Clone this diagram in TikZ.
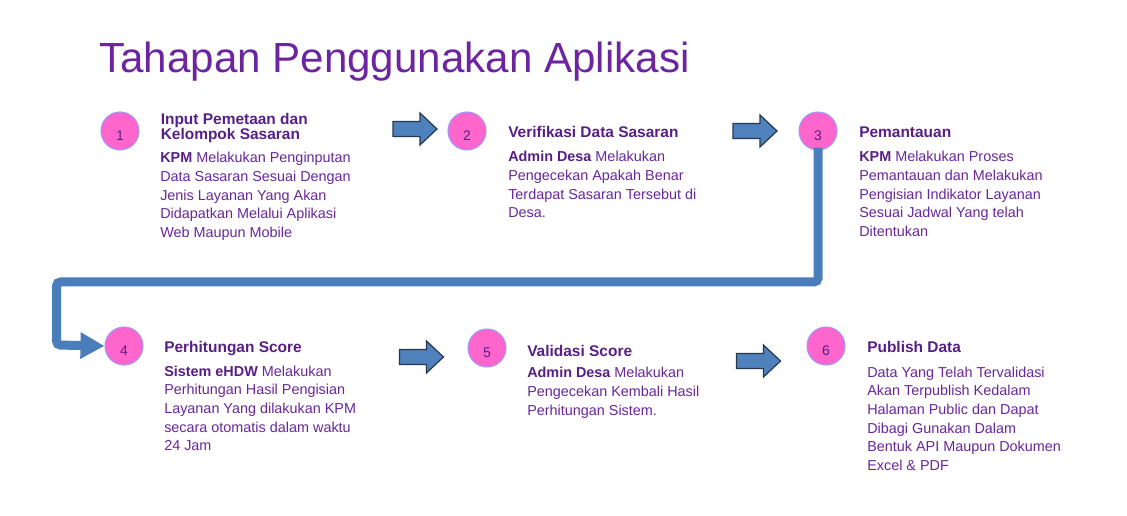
\documentclass[tikz,border=0pt]{standalone}
\usepackage{fontspec}
\setmainfont{Liberation Sans}
\usepackage{xcolor}
\usetikzlibrary{arrows.meta,calc}
\definecolor{titlec}{RGB}{108,36,160}
\definecolor{headc}{RGB}{88,30,135}
\definecolor{bodyc}{RGB}{104,38,154}
\definecolor{pinkc}{RGB}{255,102,204}
\definecolor{ringc}{RGB}{160,150,255}
\definecolor{arrowc}{RGB}{79,129,189}
\definecolor{arrowedge}{RGB}{38,56,80}
\definecolor{connc}{RGB}{74,126,187}
\newcommand\lns[1]{\vtop{\lineskiplimit=-\maxdimen\halign{##\hfil\cr#1\crcr}}}
\newcommand\hb[1]{{\bfseries\color{headc}#1}}
\tikzset{
  stepcircle/.style={circle, draw=ringc, line width=0.8pt, fill=pinkc, minimum size=28.5pt, inner sep=0pt},
  num/.style={font=\fontsize{10.5pt}{12pt}\selectfont, text=headc, inner sep=0pt},
  head/.style={anchor=base west, inner sep=0pt, text=headc, font=\fontsize{11.6pt}{11pt}\selectfont\bfseries},
  body/.style={anchor=base west, inner sep=0pt, text=bodyc, font=\fontsize{10.8pt}{14pt}\selectfont},
  blockarrow/.style={fill=arrowc, draw=arrowedge, line width=0.9pt, line join=miter},
  conn/.style={draw=connc, line width=6.75pt, rounded corners=3pt, -{Triangle[length=18pt,width=18.75pt]}},
  barrow/.pic={\draw[blockarrow] (-22,-7.5) -- (5,-7.5) -- (5,-16) -- (22,0) -- (5,16) -- (5,7.5) -- (-22,7.5) -- cycle;}
}
\begin{document}
\begin{tikzpicture}[x=0.75pt,y=-0.75pt]
\useasboundingbox (0,0) rectangle (1127,516);
% title
\node[anchor=base west, inner sep=0pt, text=titlec, font=\fontsize{31.6pt}{36pt}\selectfont] (title) at (99,73) {Tahapan Penggunakan Aplikasi};
% circles
\node[stepcircle] (c1) at (120,131) {};
\node[stepcircle] (c2) at (467,131) {};
\node[stepcircle] (c3) at (818,131) {};
\node[stepcircle] (c4) at (124,346) {};
\node[stepcircle] (c5) at (487,348) {};
\node[stepcircle] (c6) at (826,346) {};
\node[num] (n1) at ($(c1)+(0,5)$) {1};
\node[num] (n2) at ($(c2)+(0,5)$) {2};
\node[num] (n3) at ($(c3)+(0,5)$) {3};
\node[num] (n4) at ($(c4)+(0,5)$) {4};
\node[num] (n5) at ($(c5)+(0,5)$) {5};
\node[num] (n6) at ($(c6)+(0,5)$) {6};
% block arrows
\pic at (415,129) {barrow};
\pic at (755,131) {barrow};
\pic at (421.5,357) {barrow};
\pic at (758.5,361) {barrow};
% connector 3 -> 4
\draw[conn] ($(c3.south)+(0,-3)$) -- ($(c3.south |- 0,282)$) -- (56.5,282) -- (56.5,345) -- (c4.west);
% step 1
\node[head] (h1) at (160.5,125) {\lns{Input Pemetaan dan\cr Kelompok Sasaran}};
\node[body] (b1) at (160,163) {\lns{\hb{KPM} Melakukan Penginputan\cr Data Sasaran Sesuai Dengan\cr Jenis Layanan Yang Akan\cr Didapatkan Melalui Aplikasi\cr Web Maupun Mobile}};
% step 2
\node[head] (h2) at (508,138) {\lns{Verifikasi Data Sasaran}};
\node[body] (b2) at (508,162) {\lns{\hb{Admin Desa} Melakukan\cr Pengecekan Apakah Benar\cr Terdapat Sasaran Tersebut di\cr Desa.}};
% step 3
\node[head] (h3) at (859,138) {\lns{Pemantauan}};
\node[body] (b3) at (859,162) {\lns{\hb{KPM} Melakukan Proses\cr Pemantauan dan Melakukan\cr Pengisian Indikator Layanan\cr Sesuai Jadwal Yang telah\cr Ditentukan}};
% step 4
\node[head] (h4) at (164,353) {\lns{Perhitungan Score}};
\node[body] (b4) at (164,376) {\lns{\hb{Sistem eHDW} Melakukan\cr Perhitungan Hasil Pengisian\cr Layanan Yang dilakukan KPM\cr secara otomatis dalam waktu\cr 24 Jam}};
% step 5
\node[head] (h5) at (527,356) {\lns{Validasi Score}};
\node[body] (b5) at (527,378) {\lns{\hb{Admin Desa} Melakukan\cr Pengecekan Kembali Hasil\cr Perhitungan Sistem.}};
% step 6
\node[head] (h6) at (867,353) {\lns{Publish Data}};
\node[body] (b6) at (867,377) {\lns{Data Yang Telah Tervalidasi\cr Akan Terpublish Kedalam\cr Halaman Public dan Dapat\cr Dibagi Gunakan Dalam\cr Bentuk API Maupun Dokumen\cr Excel \& PDF}};
\end{tikzpicture}
\end{document}
